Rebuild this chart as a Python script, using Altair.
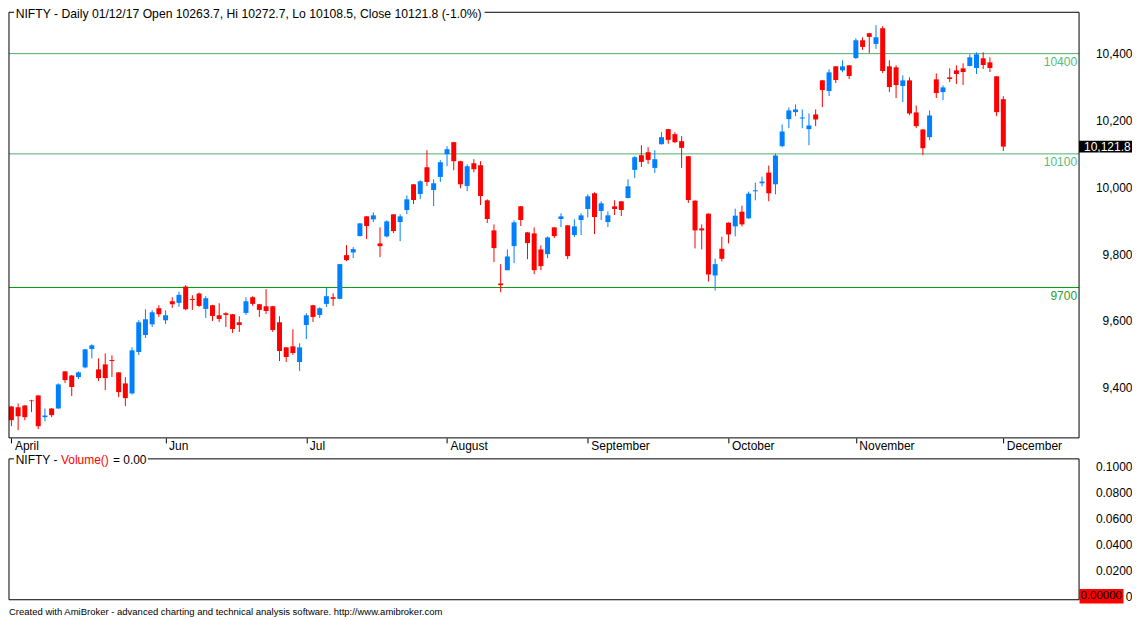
import altair as alt
import pandas as pd

# ---------------- data ----------------
opens = [9344, 9342, 9347, 9362, 9377, 9312, 9338, 9338, 9449, 9437,
         9432, 9461, 9516, 9455, 9470, 9483, 9446, 9413, 9383, 9507,
         9558, 9590, 9638, 9602, 9659, 9654, 9703, 9666, 9682, 9636,
         9647, 9617, 9623, 9620, 9596, 9624, 9671, 9650, 9644, 9644,
         9596, 9521, 9524, 9477, 9588, 9647, 9618, 9651, 9671, 9666,
         9797, 9805, 9854, 9913, 9904, 9832, 9853, 9919, 9896, 9932,
         10009, 9980, 10060, 9992, 10031, 10099, 10135, 10078, 10004, 10072,
         10066, 9961, 9871, 9712, 9752, 9824, 9943, 9865, 9862, 9814,
         9800, 9880, 9905, 9886, 9857, 9902, 9935, 9982, 9929, 9896,
         9943, 9958, 9968, 10052, 10096, 10105, 10058, 10129, 10174, 10159,
         10138, 10093, 9960, 9877, 9921, 9736, 9816, 9894, 9883, 9927,
         9907, 9988, 10012, 10044, 10009, 10123, 10204, 10225, 10206, 10174,
         10218, 10320, 10288, 10362, 10350, 10365, 10387, 10440, 10461, 10429,
         10476, 10362, 10359, 10303, 10320, 10224, 10173, 10150, 10323, 10285,
         10329, 10350, 10356, 10363, 10357, 10386, 10374, 10332, 10263.7]
highs = [9346, 9353, 9348, 9364, 9378, 9338, 9339, 9413, 9450, 9438,
         9449, 9516, 9530, 9488, 9503, 9497, 9447, 9432, 9521, 9602,
         9635, 9632, 9647, 9632, 9671, 9687, 9707, 9677, 9685, 9674,
         9648, 9653, 9626, 9621, 9614, 9671, 9674, 9651, 9695, 9645,
         9614, 9522, 9575, 9533, 9623, 9648, 9641, 9700, 9683, 9771,
         9827, 9821, 9893, 9914, 9925, 9880, 9901, 9920, 9919, 9976,
         10010, 10021, 10111, 10024, 10081, 10123, 10136, 10079, 10069, 10084,
         10078, 9964, 9889, 9770, 9814, 9901, 9944, 9866, 9880, 9826,
         9853, 9881, 9922, 9887, 9904, 9922, 9979, 9985, 9958, 9928,
         9961, 9959, 10024, 10093, 10126, 10120, 10111, 10165, 10175, 10165,
         10153, 10094, 9961, 9889, 9922, 9786, 9852, 9895, 9936, 9945,
         9987, 10014, 10032, 10065, 10101, 10188, 10239, 10248, 10233, 10221,
         10233, 10321, 10353, 10363, 10380, 10366, 10446, 10449, 10462, 10485,
         10482, 10380, 10365, 10335, 10329, 10245, 10174, 10230, 10341, 10305,
         10356, 10365, 10371, 10398, 10404, 10404, 10389, 10333, 10272.7]
lows = [9285, 9273, 9303, 9327, 9276, 9300, 9312, 9337, 9414, 9375,
        9426, 9458, 9488, 9420, 9393, 9432, 9372, 9345, 9380, 9498,
        9549, 9582, 9612, 9591, 9639, 9642, 9632, 9633, 9642, 9609,
        9600, 9597, 9582, 9564, 9567, 9618, 9645, 9612, 9621, 9567,
        9480, 9477, 9498, 9450, 9546, 9597, 9609, 9642, 9645, 9665,
        9779, 9788, 9853, 9845, 9896, 9791, 9850, 9863, 9839, 9920,
        9950, 9965, 10004, 9944, 10016, 10063, 10051, 9997, 9988, 10045,
        9947, 9893, 9776, 9686, 9751, 9773, 9884, 9785, 9740, 9752,
        9788, 9848, 9881, 9785, 9851, 9857, 9910, 9860, 9902, 9881,
        9917, 9914, 9967, 10028, 10061, 10070, 10043, 10128, 10130, 10132,
        10058, 9953, 9817, 9814, 9718, 9691, 9778, 9832, 9853, 9883,
        9906, 9961, 10003, 9958, 9979, 10120, 10177, 10213, 10177, 10126,
        10183, 10240, 10273, 10312, 10344, 10324, 10384, 10411, 10402, 10414,
        10342, 10285, 10267, 10255, 10216, 10177, 10096, 10141, 10267, 10261,
        10315, 10309, 10306, 10362, 10339, 10354, 10345, 10213, 10108.5]
closes = [9303, 9315, 9312, 9360, 9285, 9317, 9318, 9410, 9423, 9402,
          9446, 9515, 9527, 9429, 9429, 9480, 9387, 9369, 9512, 9596,
          9605, 9626, 9620, 9617, 9650, 9678, 9635, 9663, 9645, 9668,
          9615, 9606, 9618, 9576, 9588, 9659, 9651, 9633, 9630, 9573,
          9510, 9492, 9504, 9521, 9617, 9612, 9638, 9674, 9666, 9770,
          9782, 9815, 9892, 9884, 9916, 9824, 9898, 9869, 9913, 9964,
          9962, 10018, 10016, 10012, 10075, 10114, 10078, 10009, 10063, 10054,
          9974, 9905, 9818, 9707, 9793, 9895, 9902, 9833, 9752, 9764,
          9850, 9854, 9913, 9794, 9883, 9916, 9973, 9911, 9952, 9916,
          9935, 9932, 10003, 10090, 10076, 10082, 10084, 10150, 10142, 10135,
          10118, 9962, 9871, 9871, 9739, 9770, 9786, 9859, 9915, 9889,
          9981, 9991, 10017, 9982, 10095, 10167, 10230, 10233, 10209, 10185,
          10203, 10291, 10344, 10321, 10362, 10333, 10440, 10420, 10450, 10449,
          10348, 10300, 10306, 10320, 10221, 10183, 10117, 10215, 10282, 10299,
          10324, 10339, 10345, 10389, 10398, 10366, 10357, 10225, 10121.8]

month_ticks = [0, 23, 44, 65, 86, 107, 126, 148]
month_names = ["April", "Jun", "Jul", "August", "September", "October", "November", "December"]
price_ticks = [9400, 9600, 9800, 10000, 10200, 10400]
levels = [10400, 10100, 9700]
level_texts = ["10400", "10100", "9700"]
vol_ticks = [0, 0.02, 0.04, 0.06, 0.08, 0.1]
vol_value = [0.0]

title_text = "NIFTY - Daily 01/12/17 Open 10263.7, Hi 10272.7, Lo 10108.5, Close 10121.8 (-1.0%)"
footer_text = "Created with AmiBroker - advanced charting and technical analysis software. http://www.amibroker.com"

# ---------------- layout / style ----------------
FONT = "Liberation Sans"
W = 1071
H1 = 426
H2 = 141
LP = 53          # right label padding (labels right-aligned at W + LP)
UP = "#0080ff"
DOWN = "#ff0000"


def box_shape(w, h):
    r = h / w
    return f"M-1,{-r:.4f}L1,{-r:.4f}L1,{r:.4f}L-1,{r:.4f}Z"


df = pd.DataFrame({"i": list(range(len(opens))), "o": opens, "h": highs, "l": lows, "c": closes})
df["top"] = df[["o", "c"]].max(axis=1)
df["bot"] = df[["o", "c"]].min(axis=1)
df["dir"] = ["up" if c >= o else "down" for o, c in zip(df["o"], df["c"])]

xs = alt.Scale(domain=[-0.36, 159.3], nice=False, zero=False, padding=0)
ys = alt.Scale(domain=[9250.0, 10523.8], nice=False, zero=False, padding=0)
color = alt.Color("dir:N", scale=alt.Scale(domain=["up", "down"], range=[UP, DOWN]), legend=None)

label_expr = " : ".join(f"datum.value == {v} ? '{n}'" for v, n in zip(month_ticks, month_names)) + " : ''"
x_axis = alt.Axis(values=month_ticks, labelExpr=label_expr, title=None, grid=False, domain=False,
                  ticks=True, tickSize=5, tickColor="black", tickWidth=1, labelAlign="left",
                  labelBaseline="top", labelPadding=-2, labelOffset=3, labelFontSize=12, labelFont=FONT,
                  labelColor="black", labelFlush=False, labelOverlap=False, labelBound=False, orient="bottom")
y_axis = alt.Axis(values=price_ticks, labelExpr="format(datum.value, ',')", orient="right", title=None,
                  grid=False, domain=False, ticks=False, tickSize=0, labelAlign="right",
                  labelBaseline="middle", labelPadding=LP, labelFontSize=12, labelFont=FONT, labelColor="black")

X = alt.X("i:Q", scale=xs, axis=x_axis)

wicks = alt.Chart(df).mark_rule(strokeWidth=1).encode(
    x=X, y=alt.Y("l:Q", scale=ys, axis=y_axis), y2="h:Q", color=color)
bodies = alt.Chart(df).mark_bar(size=5).encode(
    x=X, y=alt.Y("top:Q", scale=ys, axis=y_axis), y2="bot:Q", color=color)

lv = pd.DataFrame({"level": levels, "label": level_texts,
                   "lc": ["#4caf6f", "#4caf6f", "#00a000"],
                   "tc": ["#55bb77", "#55bb77", "#2a9d2a"]})
level_lines = alt.Chart(lv).mark_rule(strokeWidth=1).encode(
    y=alt.Y("level:Q", scale=ys, axis=y_axis), color=alt.Color("lc:N", scale=None))
level_labels = alt.Chart(lv).mark_text(align="right", baseline="middle", dy=8, fontSize=12, font=FONT).encode(
    x=alt.value(W - 2), y=alt.Y("level:Q", scale=ys, axis=y_axis), text="label:N",
    color=alt.Color("tc:N", scale=None))

BOX_W, BOX_H = 53, 11.7
last = pd.DataFrame({"c": [closes[-1]], "label": [f"{closes[-1]:,.1f}"]})
last_box = alt.Chart(last).mark_point(shape=box_shape(BOX_W, BOX_H), size=BOX_W ** 2, filled=True,
                                      color="black", opacity=1, strokeWidth=0).encode(
    x=alt.value(W + BOX_W / 2), y=alt.Y("c:Q", scale=ys, axis=y_axis))
last_text = alt.Chart(last).mark_text(align="left", baseline="middle", color="white", fontSize=12, font=FONT).encode(
    x=alt.value(W + 5), y=alt.Y("c:Q", scale=ys, axis=y_axis), text="label:N")

one = pd.DataFrame({"t": [title_text]})
title_mark = alt.Chart(one).mark_text(align="left", baseline="middle", fontSize=12.2, font=FONT, color="black", dy=2).encode(
    x=alt.value(6.7), y=alt.value(0), text="t:N")

fr = pd.DataFrame({"k": [0]})
def frame(w, h, gap_start):
    return [
        alt.Chart(fr).mark_rule(color="black", strokeWidth=1).encode(x=alt.value(0), y=alt.value(0), y2=alt.value(h)),
        alt.Chart(fr).mark_rule(color="black", strokeWidth=1).encode(x=alt.value(w), y=alt.value(0), y2=alt.value(h)),
        alt.Chart(fr).mark_rule(color="black", strokeWidth=1).encode(x=alt.value(0), x2=alt.value(w), y=alt.value(h)),
        alt.Chart(fr).mark_rule(color="black", strokeWidth=1).encode(x=alt.value(0), x2=alt.value(5), y=alt.value(0)),
        alt.Chart(fr).mark_rule(color="black", strokeWidth=1).encode(x=alt.value(gap_start), x2=alt.value(w), y=alt.value(0)),
    ]

price = alt.layer(level_lines, level_labels, wicks, bodies, last_box, last_text, title_mark,
                  *frame(W, H1, 476)).properties(width=W, height=H1)

# ---------------- volume panel ----------------
vs = alt.Scale(domain=[-0.00269, 0.10561], nice=False, zero=False, padding=0)
v_axis = alt.Axis(values=vol_ticks, labelExpr="datum.value == 0 ? '0' : format(datum.value, '.4f')",
                  orient="right", title=None, grid=False, domain=False, ticks=False, tickSize=0,
                  labelAlign="right", labelBaseline="middle", labelPadding=LP, labelFontSize=12,
                  labelFont=FONT, labelColor="black")
VB_W, VB_H = 44, 14.5
vz = pd.DataFrame({"v": vol_value, "label": ["0.00000"]})
vol_box = alt.Chart(vz).mark_point(shape=box_shape(VB_W, VB_H), size=VB_W ** 2, filled=True,
                                   color="#ff0000", opacity=1, strokeWidth=0).encode(
    x=alt.value(W + 0.5 + VB_W / 2), y=alt.Y("v:Q", scale=vs, axis=v_axis))
vol_text = alt.Chart(vz).mark_text(align="left", baseline="middle", color="black", fontSize=11.5, font=FONT).encode(
    x=alt.value(W + 1.5), y=alt.Y("v:Q", scale=vs, axis=v_axis), text="label:N")

vt = pd.DataFrame({"a": ["NIFTY -"], "b": ["Volume()"], "c": ["= 0.00"]})
vt1 = alt.Chart(vt).mark_text(align="left", baseline="middle", fontSize=12, font=FONT, color="black", dy=1.5).encode(
    x=alt.value(6.7), y=alt.value(0), text="a:N")
vt2 = alt.Chart(vt).mark_text(align="left", baseline="middle", fontSize=12, font=FONT, color="#ff0000", dy=1.5).encode(
    x=alt.value(52), y=alt.value(0), text="b:N")
vt3 = alt.Chart(vt).mark_text(align="left", baseline="middle", fontSize=12, font=FONT, color="black", dy=1.5).encode(
    x=alt.value(104), y=alt.value(0), text="c:N")

ft = pd.DataFrame({"t": [footer_text]})
footer = alt.Chart(ft).mark_text(align="left", baseline="middle", fontSize=9.5, font=FONT, color="black").encode(
    x=alt.value(0), y=alt.value(H2 + 12), text="t:N")

volume = alt.layer(vol_box, vol_text, vt1, vt2, vt3, footer, *frame(W, H2, 139)).properties(width=W, height=H2)

chart = alt.vconcat(price, volume, spacing=21, bounds="flush").properties(padding=0).configure_view(stroke=None)

chart.save("out.html", embed_options={"renderer": "svg", "actions": False})
